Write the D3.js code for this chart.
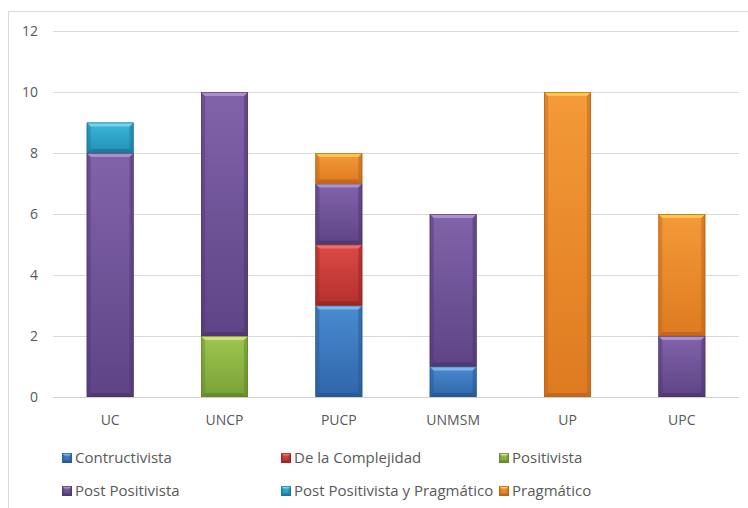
<!DOCTYPE html>
<html><head><meta charset="utf-8">
<script src="https://cdn.jsdelivr.net/npm/d3@7"></script>
<style>html,body{margin:0;padding:0;background:#fff;}svg{display:block;}</style>
</head><body><svg id="c" width="748" height="508"></svg>
<script>
const categories = ["UC","UNCP","PUCP","UNMSM","UP","UPC"];
const seriesNames = ["Contructivista","De la Complejidad","Positivista","Post Positivista","Post Positivista y Pragmático","Pragmático"];
const contructivista   = [0,0,3,1,0,0];
const complejidad      = [0,0,2,0,0,0];
const positivista      = [0,2,0,0,0,0];
const postPositivista  = [8,8,2,5,0,2];
const postPosPragmatico= [1,0,0,0,0,0];
const pragmatico       = [0,0,1,0,10,4];
const yTicks = [0,2,4,6,8,10,12];

const seriesValues = [contructivista, complejidad, positivista, postPositivista, postPosPragmatico, pragmatico];
const palette = [
  {base:"#3f7dc4", top:"#4a8bd2", bot:"#2f66a8", hi:"#7ab8ec", sh:"#24558f", line:"#2a5a94"},
  {base:"#d23f3b", top:"#dc4a46", bot:"#b3302d", hi:"#ef6d68", sh:"#8e2523", line:"#902826"},
  {base:"#92bd4a", top:"#9cc64f", bot:"#79a237", hi:"#cde27e", sh:"#5f8428", line:"#5e8029"},
  {base:"#7658a0", top:"#8163aa", bot:"#5e4486", hi:"#ab90cb", sh:"#4a346b", line:"#4d376e"},
  {base:"#30abd0", top:"#3ab7da", bot:"#2290b4", hi:"#74d2ec", sh:"#1a7493", line:"#1d7391"},
  {base:"#f08c2c", top:"#f49a38", bot:"#de7a20", hi:"#fcc64c", sh:"#b9611a", line:"#b2601b"}
];

const svg = d3.select("#c");
const x = d3.scaleBand().domain(categories).range([53,739]).paddingInner(0.59).paddingOuter(0.295);
const y = d3.scaleLinear().domain([0,12]).range([397,31]);
const FONT = "'Open Sans', sans-serif";

// chart border
svg.append("rect").attr("x",8.5).attr("y",11.5).attr("width",760).attr("height",520)
  .attr("fill","#fff").attr("stroke","#d9d9d9").attr("stroke-width",1);

// gradients
const defs = svg.append("defs");
palette.forEach((p,i)=>{
  const g = defs.append("linearGradient").attr("id","g"+i).attr("x1",0).attr("y1",0).attr("x2",0).attr("y2",1);
  g.append("stop").attr("offset","0%").attr("stop-color",p.top);
  g.append("stop").attr("offset","100%").attr("stop-color",p.bot);
});

// gridlines
svg.append("g").selectAll("line").data(yTicks).join("line")
  .attr("x1",53).attr("x2",739)
  .attr("y1",d=>Math.round(y(d))+0.5).attr("y2",d=>Math.round(y(d))+0.5)
  .attr("stroke",d=>d===0?"#d0d0d0":"#d9d9d9").attr("stroke-width",1);

// y labels
svg.append("g").selectAll("text").data(yTicks).join("text")
  .attr("x",38).attr("y",d=>y(d)+5).attr("text-anchor","end")
  .attr("font-family",FONT).attr("font-size",14).attr("fill","#595959")
  .text(d=>d);

// stacked data
const rows = categories.map((c,i)=>{const o={cat:c}; seriesNames.forEach((s,j)=>o[s]=seriesValues[j][i]); return o;});
const stacked = d3.stack().keys(seriesNames)(rows);

function bevel(g, x0, y0, w, h, p, gi, bmax){
  const b = Math.min(bmax||4, h/2);
  g.append("rect").attr("x",x0).attr("y",y0).attr("width",w).attr("height",h).attr("fill","url(#g"+gi+")");
  g.append("polygon").attr("points",[[x0,y0],[x0+b,y0+b],[x0+b,y0+h-b],[x0,y0+h]].join(" ")).attr("fill",p.sh).attr("opacity",0.4);
  g.append("polygon").attr("points",[[x0+w,y0],[x0+w-b,y0+b],[x0+w-b,y0+h-b],[x0+w,y0+h]].join(" ")).attr("fill",p.sh).attr("opacity",0.5);
  g.append("polygon").attr("points",[[x0,y0+h],[x0+b,y0+h-b],[x0+w-b,y0+h-b],[x0+w,y0+h]].join(" ")).attr("fill",p.sh).attr("opacity",0.7);
  g.append("polygon").attr("points",[[x0,y0],[x0+w,y0],[x0+w-b,y0+b],[x0+b,y0+b]].join(" ")).attr("fill",p.hi);
  g.append("rect").attr("x",x0+0.4).attr("y",y0+0.4).attr("width",w-0.8).attr("height",h-0.8)
    .attr("fill","none").attr("stroke",p.line).attr("stroke-width",0.8).attr("opacity",0.8);
}

const barsG = svg.append("g");
stacked.forEach((layer,si)=>{
  layer.forEach((d,ci)=>{
    if (d[1]-d[0] <= 0) return;
    const x0 = x(categories[ci]);
    const y0 = y(d[1]);
    const h = y(d[0]) - y(d[1]);
    bevel(barsG, x0, y0, x.bandwidth(), h, palette[si], si, 4);
  });
});

// x labels
svg.append("g").selectAll("text").data(categories).join("text")
  .attr("x",d=>x(d)+x.bandwidth()/2).attr("y",425).attr("text-anchor","middle")
  .attr("font-family",FONT).attr("font-size",14).attr("fill","#595959")
  .text(d=>d);

// legend
const legCols = [62,281,499], legRows = [458,491];
const leg = svg.append("g");
seriesNames.forEach((s,i)=>{
  const cx = legCols[i%3], cy = legRows[Math.floor(i/3)];
  const p = palette[i];
  const lg = leg.append("g");
  bevel(lg, cx, cy-5, 10, 10, p, i, 2.5);
  lg.append("text").attr("x",cx+13).attr("y",cy+5)
    .attr("font-family",FONT).attr("font-size",15).attr("fill","#595959")
    .text(s);
});
</script></body></html>
